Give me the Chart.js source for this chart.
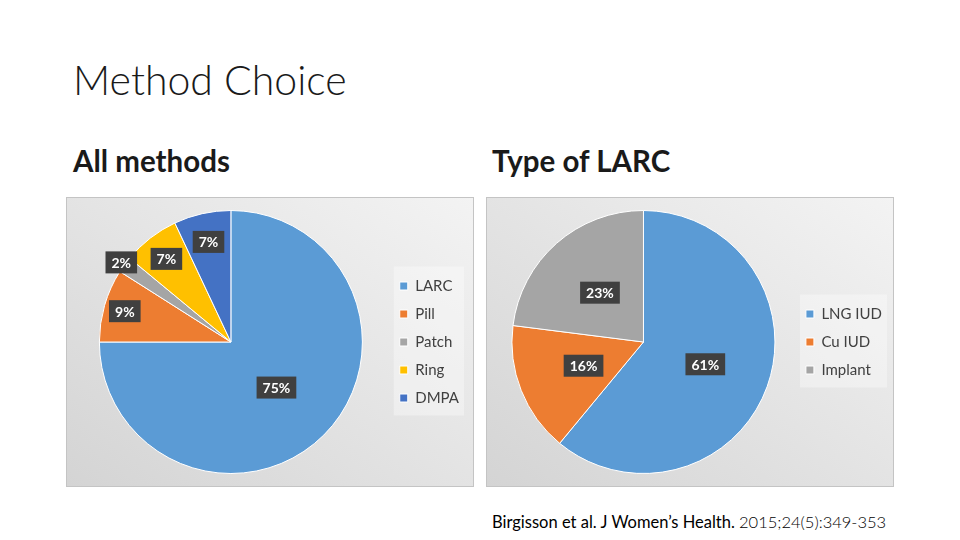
<!DOCTYPE html>
<html>
<head>
<meta charset="utf-8">
<script src="https://cdn.jsdelivr.net/npm/chart.js@4.4.1/dist/chart.umd.min.js"></script>
<style>
    body { margin: 0; width: 960px; height: 540px; background: #fff; position: relative; overflow: hidden; font-family: Lato, 'Open Sans', sans-serif; color: #1a1a1a; }
    .title { position: absolute; left: 73px; top: 55px; font-size: 41px; font-weight: 300; }
    .sub { position: absolute; top: 143px; font-size: 29.5px; font-weight: 700; }
    .panel { position: absolute; top: 197px; width: 406px; height: 288px; border: 1px solid #c4c4c4; background: linear-gradient(to top right, #d4d4d4, #f3f3f3); }
    .panel canvas { display: block; position: absolute; left: 0; top: 0; }
    .cite { position: absolute; left: 492px; top: 512px; font-size: 16.5px; color: #000; }
    .cite span { font-weight: 300; }
</style>
</head>
<body>
<div class="title">Method Choice</div>
<div class="sub" style="left: 73px;">All methods</div>
<div class="sub" style="left: 492px;">Type of LARC</div>
<div class="panel" style="left: 66px;"><canvas id="all-chart" width="406" height="288"></canvas></div>
<div class="panel" style="left: 486px;"><canvas id="larc-chart" width="416" height="288"></canvas></div>
<div class="cite">Birgisson et al. J Women’s Health. <span>2015;24(5):349-353</span></div>

<script>
const methodLabels = ['LARC', 'Pill', 'Patch', 'Ring', 'DMPA'];
const methodValues = [75, 9, 2, 7, 7];
const methodColors = ['#5B9BD5', '#ED7D31', '#A5A5A5', '#FFC000', '#4472C4'];

const larcLabels = ['LNG IUD', 'Cu IUD', 'Implant'];
const larcValues = [61, 16, 23];
const larcColors = ['#5B9BD5', '#ED7D31', '#A5A5A5'];

// dark boxed percentage labels, placed along each slice's middle angle
const sliceLabels = {
    id: 'sliceLabels',
    afterDatasetsDraw(chart, args, opts) {
        const ctx = chart.ctx;
        const meta = chart.getDatasetMeta(0);
        ctx.save();
        ctx.font = 'bold 14px Lato, "Open Sans", sans-serif';
        ctx.textAlign = 'center';
        ctx.textBaseline = 'middle';
        meta.data.forEach((arc, i) => {
            const p = arc.getProps(['x', 'y', 'startAngle', 'endAngle', 'outerRadius'], true);
            const mid = (p.startAngle + p.endAngle) / 2;
            const r = p.outerRadius * opts.radius[i];
            const x = p.x + Math.cos(mid) * r;
            const y = p.y + Math.sin(mid) * r;
            const text = chart.data.datasets[0].data[i] + '%';
            const w = ctx.measureText(text).width + 12;
            ctx.fillStyle = '#404040';
            ctx.fillRect(x - w / 2, y - 11, w, 22);
            ctx.fillStyle = '#fff';
            ctx.fillText(text, x, y + 1);
        });
        ctx.restore();
    },
};

// faint lighter backdrop behind the legend
const legendBack = {
    id: 'legendBack',
    beforeDraw(chart) {
        const l = chart.legend;
        if (!l || !l.legendHitBoxes.length) return;
        const boxes = l.legendHitBoxes;
        const top = boxes[0].top - 12;
        const bottom = boxes[boxes.length - 1].top + boxes[boxes.length - 1].height + 10;
        chart.ctx.save();
        chart.ctx.fillStyle = 'rgba(255,255,255,0.35)';
        chart.ctx.fillRect(boxes[0].left - 6, top, l.width - 12, bottom - top);
        chart.ctx.restore();
    },
};

function makePie(canvas, labels, values, colors, radius, padding) {
    return new Chart(canvas, {
        type: 'pie',
        data: {
            labels: labels,
            datasets: [{
                data: values,
                backgroundColor: colors,
                borderColor: '#fff',
                borderWidth: 1,
            }],
        },
        options: {
            responsive: false,
            animation: false,
            layout: { padding: padding },
            plugins: {
                tooltip: { enabled: false },
                legend: {
                    position: 'right',
                    labels: {
                        boxWidth: 8,
                        boxHeight: 8,
                        padding: 13,
                        color: '#404040',
                        font: { size: 15, family: 'Lato, "Open Sans", sans-serif' },
                    },
                },
                sliceLabels: { radius: radius },
            },
        },
        plugins: [legendBack, sliceLabels],
    });
}

makePie(document.querySelector('#all-chart'), methodLabels, methodValues, methodColors,
    [0.49, 0.84, 1.03, 0.8, 0.78], { top: 12, bottom: 12, left: 8, right: 4 });

makePie(document.querySelector('#larc-chart'), larcLabels, larcValues, larcColors,
    [0.5, 0.49, 0.5], { top: 12, bottom: 12, left: 7, right: 11 });
</script>
</body>
</html>
